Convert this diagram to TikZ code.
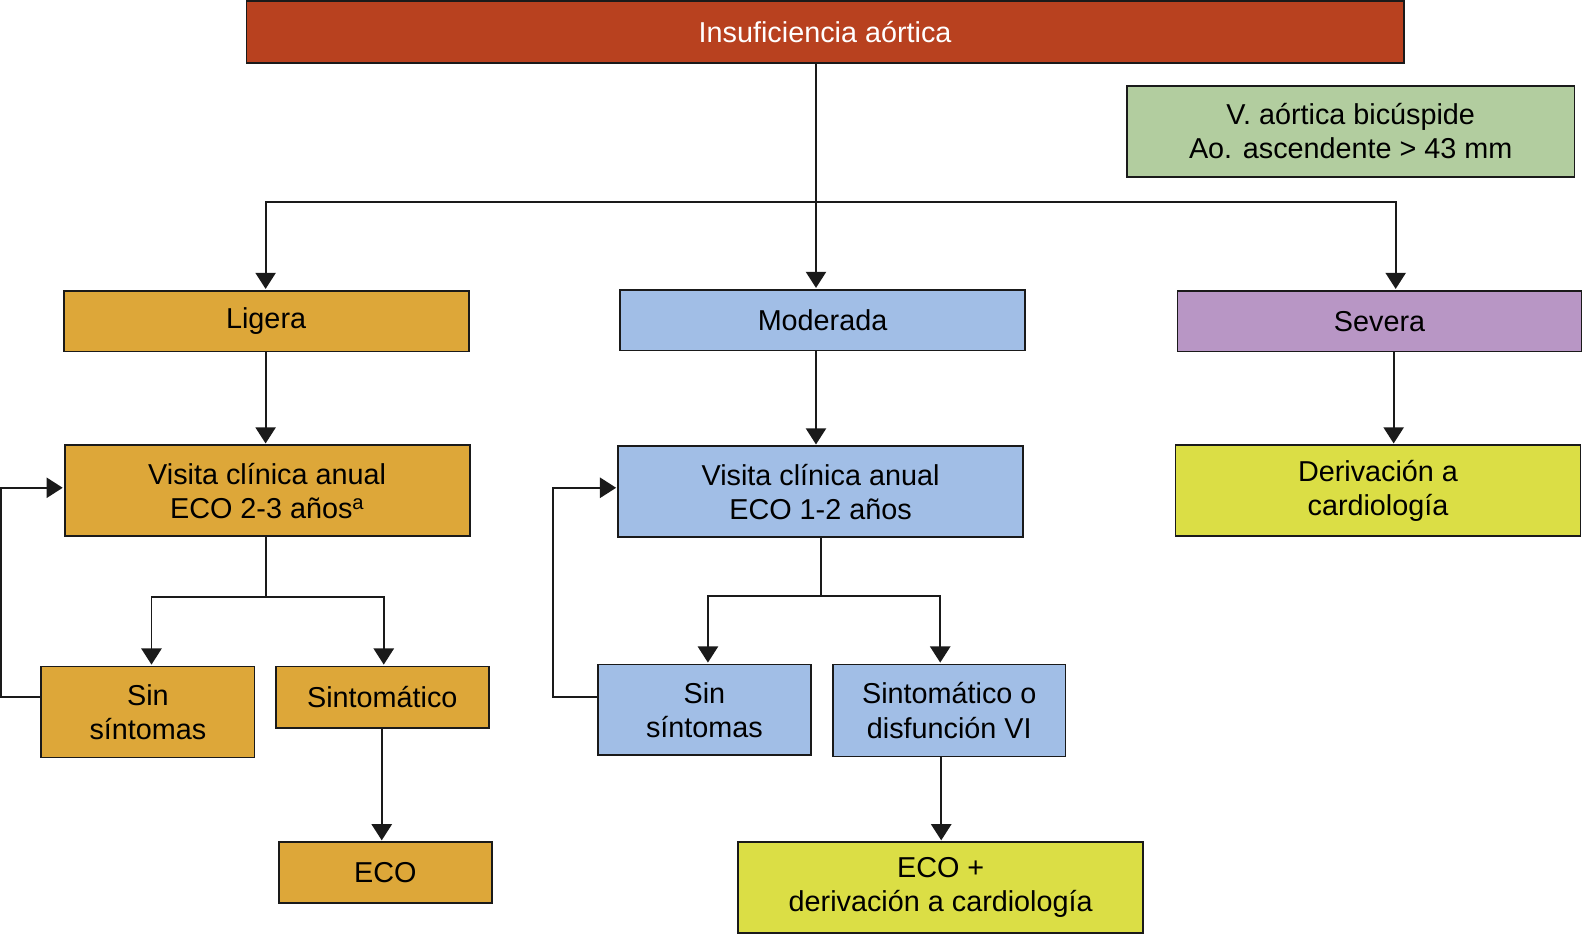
\documentclass[tikz,border=0pt]{standalone}
\usepackage{fontspec}
\setmainfont{Liberation Sans}
\usetikzlibrary{arrows.meta,calc}
\definecolor{cTitle}{HTML}{B8411F}
\definecolor{cGreen}{HTML}{B2CD9F}
\definecolor{cOrange}{HTML}{DDA739}
\definecolor{cBlue}{HTML}{A1BEE6}
\definecolor{cPurple}{HTML}{B896C5}
\definecolor{cYellow}{HTML}{DBDE45}
\definecolor{cLine}{HTML}{1A1A1A}
\begin{document}
\begin{tikzpicture}[x=1pt,y=-1pt,
  box/.style={draw=cLine,line width=1.8pt,inner sep=0pt,align=center,
    font=\fontsize{28.5}{34}\selectfont,text=black},
  arr/.style={draw=cLine,line width=1.9pt,-{Triangle[length=16pt,width=20pt]},shorten >=1pt},
  ln/.style={draw=cLine,line width=1.9pt}]
\useasboundingbox (0,0) rectangle (1567.5,925.8);
\node[box,fill=cTitle,text=white,minimum width=1146pt,minimum height=61pt] (title) at (817,31.5) {Insuficiencia aórtica};
\node[box,fill=cGreen,minimum width=443pt,minimum height=90pt] (green) at (1337.5,130) {V. aórtica bicúspide\\Ao. ascendente > 43 mm};
\node[box,fill=cOrange,minimum width=401pt,minimum height=60pt] (lig) at (263.5,318) {Ligera};
\node[box,fill=cBlue,minimum width=401pt,minimum height=60pt] (mod) at (814.5,317) {Moderada};
\node[box,fill=cPurple,minimum width=400pt,minimum height=60pt] (sev) at (1366,318) {Severa};
\node[box,fill=cOrange,minimum width=401pt,minimum height=90pt] (visL) at (264.5,486) {Visita clínica anual\\ECO 2-3 años\textsuperscript{a}};
\node[box,fill=cBlue,minimum width=401pt,minimum height=90pt] (visM) at (812.5,487) {Visita clínica anual\\ECO 1-2 años};
\node[box,fill=cYellow,minimum width=401pt,minimum height=90pt] (der) at (1364.5,486) {Derivación a\\cardiología};
\node[box,fill=cOrange,minimum width=211pt,minimum height=90pt] (sinL) at (146.5,705) {Sin\\síntomas};
\node[box,fill=cOrange,minimum width=211pt,minimum height=61pt] (sintL) at (378.5,690.5) {Sintomático};
\node[box,fill=cOrange,minimum width=211pt,minimum height=60pt] (ecoL) at (381.5,864) {ECO};
\node[box,fill=cBlue,minimum width=211pt,minimum height=90pt] (sinM) at (697.5,703) {Sin\\síntomas};
\node[box,fill=cBlue,minimum width=230pt,minimum height=91pt] (sintM) at (940,703.5) {Sintomático o\\disfunción VI};
\node[box,fill=cYellow,minimum width=401pt,minimum height=90pt] (ecoM) at (931.5,879) {ECO +\\derivación a cardiología};
% coordinates
\coordinate (s1) at (808,200);
\coordinate (xL) at (263,0);
\coordinate (xS) at (1382,0);
\coordinate (xSv) at (1380,0);
\coordinate (s2) at (263,591);
\coordinate (xL1) at (150,0);
\coordinate (xL2) at (380,0);
\coordinate (xEL) at (378,0);
\coordinate (s3) at (813,590);
\coordinate (xM1) at (701,0);
\coordinate (xM2) at (931,0);
\coordinate (xEM) at (932,0);
\coordinate (lb1) at (1,690);
\coordinate (lb2) at (548,690);
\coordinate (yl) at (0,483);
% top split
\draw[ln] (title.south -| s1) -- (s1);
\draw[arr] (s1) -| (lig.north -| xL);
\draw[arr] (s1) -- (mod.north -| s1);
\draw[arr] (s1) -| (sev.north -| xS);
% verticals
\draw[arr] (lig.south -| xL) -- (visL.north -| xL);
\draw[arr] (mod.south -| s1) -- (visM.north -| s1);
\draw[arr] (sev.south -| xSv) -- (der.north -| xSv);
% ligera split
\draw[ln] (visL.south -| s2) -- (s2);
\draw[arr] (s2) -| (sinL.north -| xL1);
\draw[arr] (s2) -| (sintL.north -| xL2);
\draw[arr] (sintL.south -| xEL) -- (ecoL.north -| xEL);
% moderada split
\draw[ln] (visM.south -| s3) -- (s3);
\draw[arr] (s3) -| (sinM.north -| xM1);
\draw[arr] (s3) -| (sintM.north -| xM2);
\draw[arr] (sintM.south -| xEM) -- (ecoM.north -| xEM);
% loops
\draw[arr] (sinL.west |- lb1) -- (lb1) |- (visL.west |- yl);
\draw[arr] (sinM.west |- lb2) -- (lb2) |- (visM.west |- yl);
\end{tikzpicture}
\end{document}
